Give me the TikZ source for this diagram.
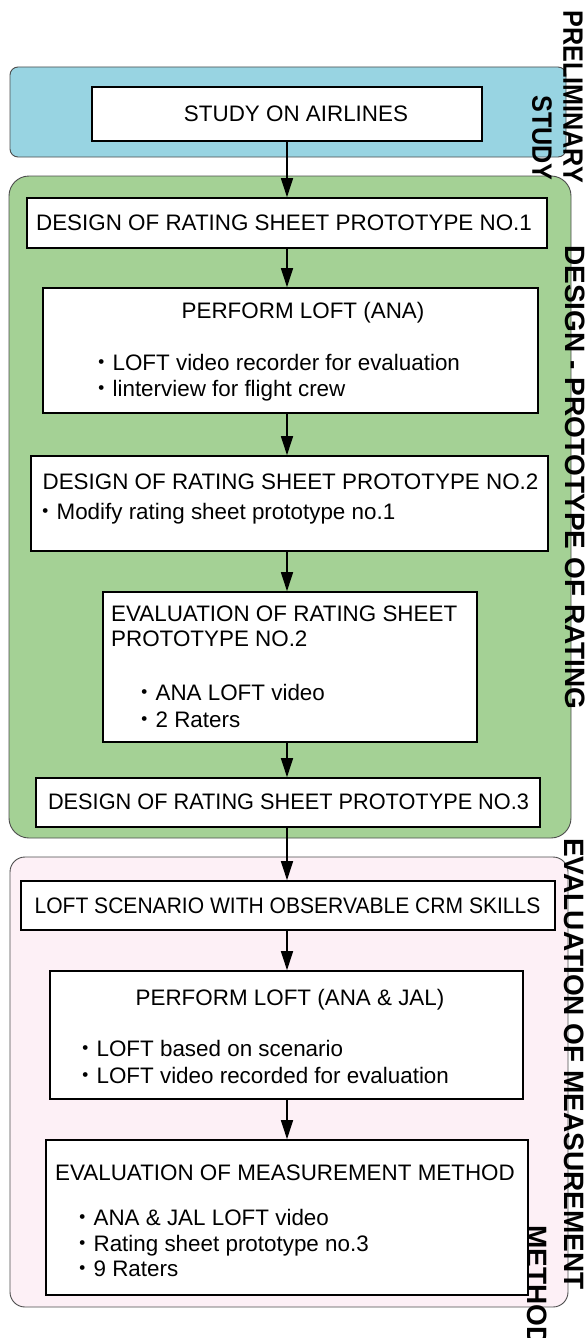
\documentclass[tikz,border=0pt]{standalone}
\usepackage{fontspec}
\setmainfont{Liberation Sans}
\newfontfamily\jpfont{Noto Sans CJK JP}
\usetikzlibrary{arrows.meta}
\definecolor{prefill}{RGB}{152,212,226}
\definecolor{desfill}{RGB}{164,209,149}
\definecolor{evalfill}{RGB}{253,240,246}
\newcommand{\bul}{{\jpfont ・}}
\begin{document}
\begin{tikzpicture}[x=1pt,y=-1pt,
  region/.style={draw=black!70, line width=0.9pt},
  stepbox/.style={draw=black, line width=1.6pt, fill=white, inner sep=0pt},
  txt/.style={inner sep=0pt, font=\fontsize{22.4}{26}\selectfont},
  arr/.style={-{Triangle[length=19pt,width=12pt]}, line width=1.3pt},
  lbl/.style={inner sep=0pt, font=\fontsize{28}{30}\selectfont\bfseries, rotate=-90, anchor=west}]
\useasboundingbox (0,0) rectangle (585,1338);
% regions
\draw[region, fill=prefill, rounded corners=8pt] (10,67) rectangle (566,157);
\draw[region, fill=desfill, rounded corners=20pt] (9,176) rectangle (571,838);
\draw[region, fill=evalfill, rounded corners=15pt] (10,857) rectangle (568,1307);
% boxes
\node[stepbox, minimum width=390pt, minimum height=54pt] (study) at (287,114) {};
\node[stepbox, minimum width=520pt, minimum height=50pt] (d1) at (287,223) {};
\node[stepbox, minimum width=495pt, minimum height=125pt] (p1) at (290.5,350.5) {};
\node[stepbox, minimum width=517pt, minimum height=95pt] (d2) at (289.5,503.5) {};
\node[stepbox, minimum width=374pt, minimum height=150pt] (e2) at (290,667) {};
\node[stepbox, minimum width=504pt, minimum height=49pt] (d3) at (288,802.5) {};
\node[stepbox, minimum width=534pt, minimum height=49pt] (s1) at (288,905.5) {};
\node[stepbox, minimum width=473pt, minimum height=128pt] (p2) at (286.5,1035) {};
\node[stepbox, minimum width=482pt, minimum height=155pt] (e3) at (287,1217.5) {};
% arrows
\coordinate (ax) at (287,0);
\draw[arr] (study.south -| ax) -- (d1.north -| ax);
\draw[arr] (d1.south -| ax) -- (p1.north -| ax);
\draw[arr] (p1.south -| ax) -- (d2.north -| ax);
\draw[arr] (d2.south -| ax) -- (e2.north -| ax);
\draw[arr] (e2.south -| ax) -- (d3.north -| ax);
\draw[arr] (d3.south -| ax) -- (s1.north -| ax);
\draw[arr] (s1.south -| ax) -- (p2.north -| ax);
\draw[arr] (p2.south -| ax) -- (e3.north -| ax);
% texts
\node[txt, anchor=base] (tstudy) at (296,121.5) {STUDY ON AIRLINES};
\node[txt, anchor=base] (td1) at (284,230) {DESIGN OF RATING SHEET PROTOTYPE NO.1};
\node[txt, anchor=base] (tp1) at (303,318) {PERFORM LOFT (ANA)};
\node[txt, anchor=base west] (tp1a) at (90,370.5) {\bul LOFT video recorder for evaluation};
\node[txt, anchor=base west] (tp1b) at (90,396) {\bul linterview for flight crew};
\node[txt, anchor=base] (td2) at (290.5,489) {DESIGN OF RATING SHEET PROTOTYPE NO.2};
\node[txt, anchor=base west] (td2a) at (34,519.5) {\bul Modify rating sheet prototype no.1};
\node[txt, anchor=base west] (te2) at (111,621) {EVALUATION OF RATING SHEET};
\node[txt, anchor=base west] (te2b) at (111,646) {PROTOTYPE NO.2};
\node[txt, anchor=base west] (te2c) at (133,700) {\bul ANA LOFT video};
\node[txt, anchor=base west] (te2d) at (133,727) {\bul 2 Raters};
\node[txt, anchor=base] (td3) at (288.5,809) {\scalebox{0.97}[1]{DESIGN OF RATING SHEET PROTOTYPE NO.3}};
\node[txt, anchor=base] (ts1) at (287.5,913) {\scalebox{0.94}[1]{LOFT SCENARIO WITH OBSERVABLE CRM SKILLS}};
\node[txt, anchor=base] (tp2) at (290,1005) {PERFORM LOFT (ANA \& JAL)};
\node[txt, anchor=base west] (tp2a) at (74,1056.5) {\bul LOFT based on scenario};
\node[txt, anchor=base west] (tp2b) at (74,1083) {\bul LOFT video recorded for evaluation};
\node[txt, anchor=base] (te3) at (285,1180) {EVALUATION OF MEASUREMENT METHOD};
\node[txt, anchor=base west] (te3a) at (71,1225) {\bul ANA \& JAL LOFT video};
\node[txt, anchor=base west] (te3b) at (71,1251) {\bul Rating sheet prototype no.3};
\node[txt, anchor=base west] (te3c) at (71,1276.5) {\bul 9 Raters};
% side labels
\node[lbl] (lpre1) at (573,10) {\scalebox{0.9}[1]{PRELIMINARY}};
\node[lbl] (lpre2) at (542,95) {\scalebox{0.9}[1]{STUDY}};
\node[lbl] (ldes) at (575,245) {DESIGN - PROTOTYPE OF RATING};
\node[lbl] (lev1) at (574,838) {EVALUATION OF MEASUREMENT};
\node[lbl] (lev2) at (537.5,1225) {METHOD};
\end{tikzpicture}
\end{document}
